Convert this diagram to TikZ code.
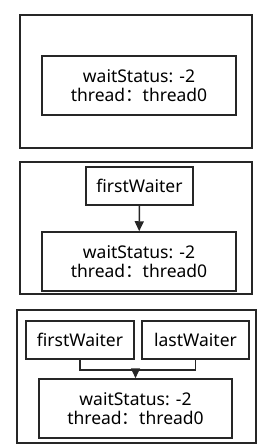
\documentclass[tikz,border=0pt]{standalone}
\usepackage{fontspec}
\setmainfont{Noto Sans}
\newfontfamily\cjk{Noto Sans CJK SC}
\usetikzlibrary{arrows.meta,positioning}
\definecolor{ink}{RGB}{38,38,38}

\begin{document}
\begin{tikzpicture}[x=1pt, y=-1pt,
  font=\fontsize{17.5}{19.5}\selectfont, >={Triangle[length=10pt,width=9pt]},
  frame/.style={draw=ink, line width=1.5pt, inner sep=0pt},
  box/.style={draw=ink, line width=1.5pt, align=center, inner sep=0pt},
  wire/.style={line width=1.5pt, draw=ink},
  flow/.style={->, line width=1.5pt, draw=ink},
]
\useasboundingbox (0,0) rectangle (272,448);
% ------------------------------------------------------------------ panel 1
\node[frame, minimum width=232pt, minimum height=133pt] (p1) at (136,81.5) {};
\node[box, minimum width=194pt, minimum height=59pt] (n1) at (139,85.5)
  {waitStatus: -2\\thread{\cjk ：}thread0};

% ------------------------------------------------------------------ panel 2
\node[frame, minimum width=232pt, minimum height=132pt] (p2) at (136,228) {};
\node[box, minimum width=107pt, minimum height=38pt] (fw2) at (139.5,186) {firstWaiter};
\node[box, minimum width=194pt, minimum height=59pt] (n2) at (139,261.5)
  {waitStatus: -2\\thread{\cjk ：}thread0};
\draw[flow] (fw2) -- (n2);

% ------------------------------------------------------------------ panel 3
\node[frame, minimum width=239pt, minimum height=133pt] (p3) at (136.5,376.5) {};
\node[box, minimum width=108pt, minimum height=38pt] (fw3) at (80,340) {firstWaiter};
\node[box, minimum width=107pt, minimum height=38pt] (lw3) at (195.5,340) {lastWaiter};
\node[box, minimum width=193pt, minimum height=59pt] (n3) at (135.5,408.5)
  {waitStatus: -2\\thread{\cjk ：}thread0};
\draw[wire] (fw3.south) -- ++(0,10) coordinate (j3) -| (lw3.south);
\coordinate (m3) at (j3 -| n3.north);
\draw[flow] (m3) -- (n3.north);
\end{tikzpicture}
\end{document}
